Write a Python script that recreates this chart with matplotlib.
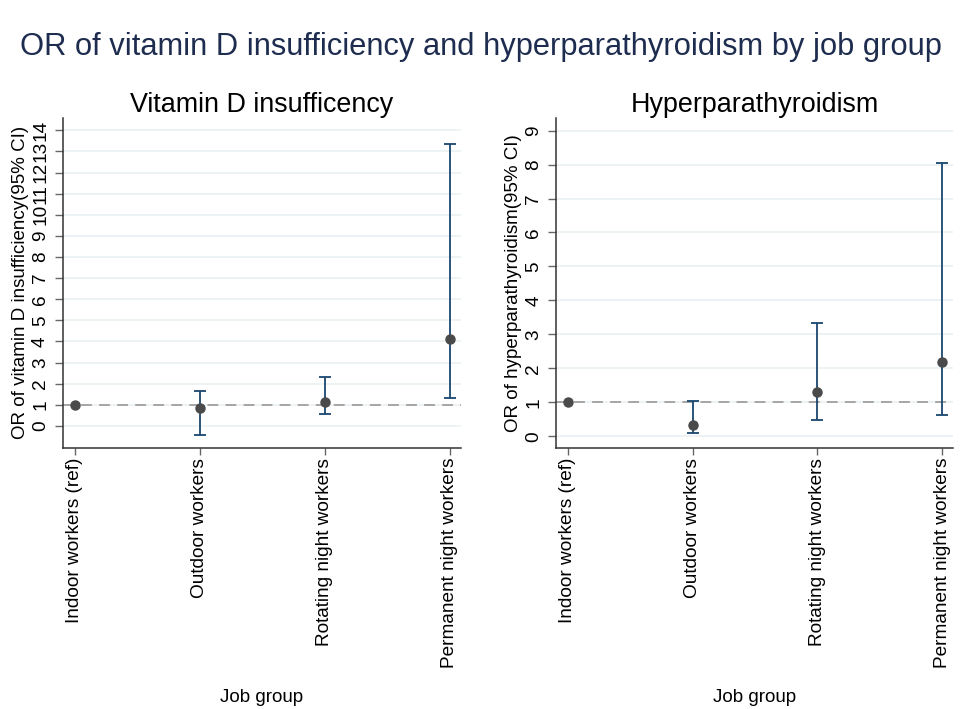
import numpy as np
import matplotlib
matplotlib.use('Agg')
import matplotlib.pyplot as plt

plt.rcParams['font.family'] = ['Liberation Sans', 'DejaVu Sans']

groups = ['Indoor workers (ref)', 'Outdoor workers', 'Rotating night workers',
          'Permanent night workers']

# vitamin D insufficiency: OR, lower CI, upper CI
vitd_or = [1.0, 0.84, 1.14, 4.11]
vitd_lo = [np.nan, -0.44, 0.58, 1.30]
vitd_hi = [np.nan, 1.66, 2.33, 13.34]

# hyperparathyroidism: OR, lower CI, upper CI
hpt_or = [1.0, 0.32, 1.29, 2.19]
hpt_lo = [np.nan, 0.10, 0.48, 0.62]
hpt_hi = [np.nan, 1.05, 3.34, 8.06]

navy = '#1a476f'
dot = '#4a4a4a'


def draw_panel(ax, title, ylabel, ors, lo, hi, yticks, ylim):
    x = np.arange(1, len(groups) + 1)
    ors = np.array(ors)
    lo = np.array(lo)
    hi = np.array(hi)
    ax.set_ylim(*ylim)
    ax.set_xlim(0.905, 4.09)
    for t in yticks:
        ax.axhline(t, color='#eaf0f2', lw=1.2, zorder=0)
    ax.axhline(1, color='#a0a0a0', lw=1.3, ls=(0, (6, 4)), zorder=1)
    m = ~np.isnan(lo)
    ax.errorbar(x[m], ors[m], yerr=[ors[m] - lo[m], hi[m] - ors[m]], fmt='none',
                ecolor=navy, elinewidth=1.3, capsize=4, capthick=1.3, zorder=2)
    ax.plot(x, ors, 'o', color=dot, ms=6.5, zorder=3)
    ax.set_xticks(x)
    ax.set_xticklabels(groups, rotation=90, fontsize=13.7)
    ax.set_yticks(yticks)
    ax.set_yticklabels([str(t) for t in yticks], rotation=90, va='center', fontsize=13.7)
    ax.tick_params(axis='x', length=5, color='#666666', width=1, pad=2)
    ax.tick_params(axis='y', length=6, color='#666666', width=1, pad=4)
    ax.set_ylabel(ylabel, fontsize=13.5, labelpad=2)
    ax.set_xlabel('Job group', fontsize=13.5, va='center')
    ax.xaxis.set_label_coords(0.5, -0.756)
    ax.set_title(title, fontsize=19.4, pad=4)
    for s in ['top', 'right']:
        ax.spines[s].set_visible(False)
    for s in ['left', 'bottom']:
        ax.spines[s].set_color('#333333')
        ax.spines[s].set_linewidth(1.1)


fig = plt.figure(figsize=(9.76, 7.09), dpi=100)
ax1 = fig.add_axes([0.0645, 0.368, 0.408, 0.466])
ax2 = fig.add_axes([0.5697, 0.368, 0.407, 0.466])

draw_panel(ax1, 'Vitamin D insufficency', 'OR of vitamin D insufficiency(95% CI)',
           vitd_or, vitd_lo, vitd_hi, list(range(0, 15)), (-1.05, 14.6))
draw_panel(ax2, 'Hyperparathyroidism', 'OR of hyperparathyroidism(95% CI)',
           hpt_or, hpt_lo, hpt_hi, list(range(0, 10)), (-0.35, 9.38))

fig.suptitle('OR of vitamin D insufficiency and hyperparathyroidism by job group',
             fontsize=22.2, color='#1e2d4f', x=0.493, y=0.955)

fig.savefig('out.png', dpi=100, facecolor='white')
